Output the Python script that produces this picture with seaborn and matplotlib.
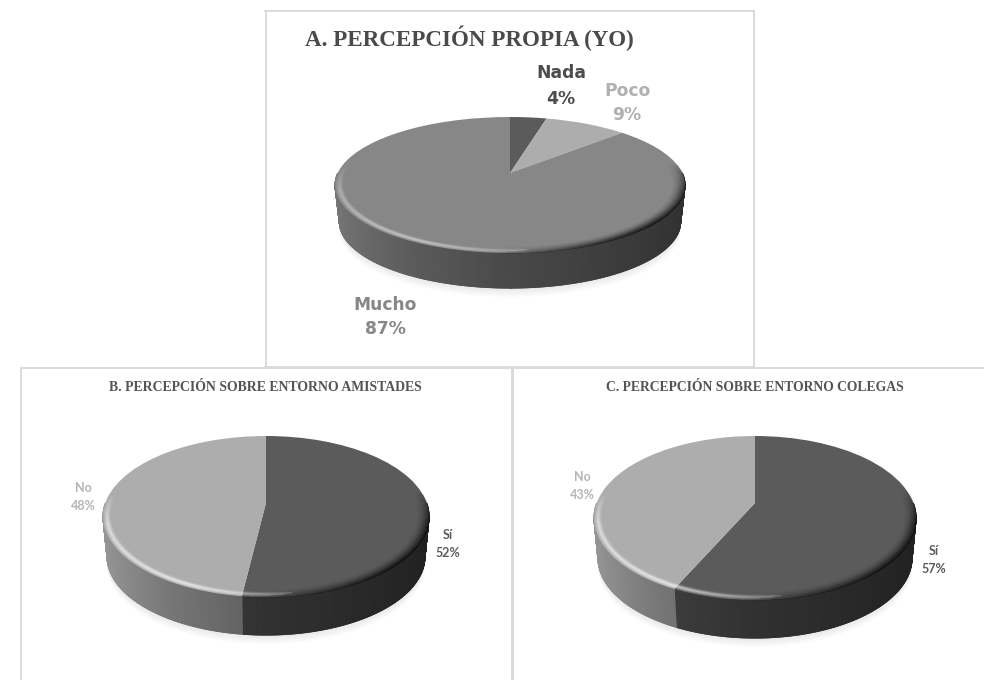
import numpy as np
import matplotlib
matplotlib.use("Agg")
import matplotlib.pyplot as plt
from matplotlib.collections import LineCollection
from matplotlib.transforms import Transform
import seaborn as sns

sns.set_theme(style="white")

# Survey shares, one small set per panel
titles = ["A. PERCEPCIÓN PROPIA (YO)",
          "B. PERCEPCIÓN SOBRE ENTORNO AMISTADES",
          "C. PERCEPCIÓN SOBRE ENTORNO COLEGAS"]
cats_a = ["Nada", "Poco", "Mucho"]
vals_a = [4, 9, 87]
cats_b = ["Sí", "No"]
vals_b = [52, 48]
cats_c = ["Sí", "No"]
vals_c = [57, 43]

grey_dark = "#5b5b5b"
grey_mid = "#878787"
grey_light = "#adadad"
frame_grey = "#d9d9d9"

# Panel layout in figure pixels
panels = [
    dict(cats=cats_a, vals=vals_a, title=titles[0],
         colors=[grey_dark, grey_light, grey_mid],
         rect=(265.5, 11, 754, 367), apex=(510, 173), rx=175, up=56, down=80, depth=35,
         title_xy=(469, 38), title_size=16.6, title_color="#4a4a4a",
         label_size=12.3, label_family="DejaVu Sans",
         label_xy=[(561, 86), (627, 103), (385, 317)],
         label_colors=["#4d4d4d", "#b0b0b0", "#878787"], line_gap=1.5, glow=0.3),
    dict(cats=cats_b, vals=vals_b, title=titles[1],
         colors=[grey_dark, grey_light],
         rect=(20.5, 368.5, 512, 700), apex=(266, 503), rx=163, up=67, down=94, depth=38,
         title_xy=(265.5, 388), title_size=9.9, title_color="#555555",
         label_size=9, label_family="Lato",
         label_xy=[(448, 544), (83, 497)],
         label_colors=["#5b5b5b", "#b5b5b5"], line_gap=1.6, glow=0.5),
    dict(cats=cats_c, vals=vals_c, title=titles[2],
         colors=[grey_dark, grey_light],
         rect=(513, 368.5, 1000, 700), apex=(755, 503), rx=161, up=67, down=97, depth=38,
         title_xy=(755, 388), title_size=9.8, title_color="#555555",
         label_size=9, label_family="Lato",
         label_xy=[(934, 560), (582, 486)],
         label_colors=["#5b5b5b", "#b5b5b5"], line_gap=1.6, glow=0.5),
]

FIG_W, FIG_H = 984, 680


class Tilt(Transform):
    """Projects the unit pie onto the page with a slight perspective."""
    input_dims = 2
    output_dims = 2
    is_separable = False
    has_inverse = False

    def __init__(self, apex, rx, up, down):
        super().__init__()
        self.apex = apex
        self.k = (down - up) / (down + up)
        self.s = up * (1 + self.k)
        self.c = rx * np.sqrt(1 - self.k ** 2)

    def transform_non_affine(self, values):
        values = np.asarray(values, dtype=float)
        w = 1 + self.k * values[:, 1]
        px = self.apex[0] + self.c * values[:, 0] / w
        py = self.apex[1] - self.s * values[:, 1] / w
        return np.column_stack([px, py])


def side_shade(u):
    return np.interp(u, [-1, -0.5, 0, 1], [0.88, 0.68, 0.54, 0.36])


def draw_panel(ax, p):
    left, top, right, bottom = p["rect"]
    tilt = Tilt(p["apex"], p["rx"], p["up"], p["down"])
    shrink = 0.975
    drop = p["depth"] + p["down"] * (1 - shrink)
    cx, cy = p["apex"]

    def ring(theta, r=1.0):
        return tilt.transform_non_affine(np.column_stack([r * np.cos(theta), r * np.sin(theta)]))

    def lower(pts):
        return cx + (pts[:, 0] - cx) * shrink, cy + (pts[:, 1] - cy) * shrink + drop

    # Soft cast shadow under the disc
    all_theta = np.linspace(0, 2 * np.pi, 240)
    for grow in np.linspace(1, 9, 6):
        lx, ly = lower(ring(all_theta))
        ax.fill(lx, ly + grow, color="black", alpha=0.016, lw=0, zorder=1)

    # Front wall, walking each slice clockwise from twelve o'clock
    edges = 90 - 3.6 * np.concatenate([[0], np.cumsum(p["vals"])])
    for i, col in enumerate(p["colors"]):
        hi, lo = edges[i], edges[i + 1]
        wall_cmap = sns.blend_palette(["#000000", col], as_cmap=True)
        for lo_w, hi_w in [(-180, 0), (-540, -360)]:
            a, b = max(lo, lo_w), min(hi, hi_w)
            if a >= b:
                continue
            th = np.radians(np.linspace(a, b, max(3, int((b - a) * 1.5))))
            pts = ring(th)
            lx, ly = lower(pts)
            X = np.vstack([pts[:, 0], lx])
            Y = np.vstack([pts[:, 1], ly])
            C = np.vstack([side_shade(np.cos(th))] * 2)
            ax.pcolormesh(X, Y, C, shading="gouraud", cmap=wall_cmap, vmin=0, vmax=1,
                          zorder=2, rasterized=False)
            # Smooth the lower silhouette of the wall
            seg = np.stack([np.column_stack([lx[:-1], ly[:-1]]),
                            np.column_stack([lx[1:], ly[1:]])], axis=1)
            ax.add_collection(LineCollection(seg, colors=wall_cmap(side_shade(np.cos(th[:-1]))),
                                             linewidths=0.8, zorder=2))

    # Top face
    wedges, _ = ax.pie(p["vals"], colors=p["colors"], startangle=90, counterclock=False,
                       radius=1, wedgeprops=dict(linewidth=0))
    for w in wedges:
        w.set_transform(tilt + ax.transData)
        w.set_zorder(3)

    # Bevel: light along the front-left rim, dark along the front-right rim
    segs, rgba = [], []
    th = np.radians(np.linspace(175, 385, 260))
    r0 = 0.925
    for r in np.linspace(r0, 1.0, 13):
        t = (r - r0) / (1 - r0)
        pts = ring(th, r)
        for j in range(len(th) - 1):
            u = np.cos(th[j])
            front = np.clip(-np.sin(th[j]) * 2.5 + 0.35, 0, 1)
            dark = np.clip(u * 0.8 + 0.1, 0, 0.7) * t ** 2 * front
            light = (np.clip((0.25 - u) / 0.7, 0, 1) * p["glow"]
                     * np.exp(-((r - 0.975) / 0.014) ** 2) * front)
            segs.append(pts[j:j + 2])
            if dark > light:
                rgba.append((0, 0, 0, dark))
            else:
                rgba.append((1, 1, 1, light))
    ax.add_collection(LineCollection(segs, colors=rgba, linewidths=1.0, zorder=4))

    # Category and share labels
    for cat, val, xy, col in zip(p["cats"], p["vals"], p["label_xy"], p["label_colors"]):
        ax.text(*xy, f"{cat}\n{val}%", ha="center", va="center", color=col, weight="bold",
                family=p["label_family"], fontsize=p["label_size"], linespacing=p["line_gap"],
                zorder=6, clip_on=False)

    ax.text(*p["title_xy"], p["title"], ha="center", va="center", color=p["title_color"],
            weight="bold", family="Liberation Serif", fontsize=p["title_size"], zorder=6)

    ax.set_aspect("auto")
    ax.set_xlim(left, right)
    ax.set_ylim(bottom, top)
    ax.set_frame_on(True)
    ax.set_xticks([])
    ax.set_yticks([])
    for spine in ax.spines.values():
        spine.set_color(frame_grey)
        spine.set_linewidth(1.3)


fig = plt.figure(figsize=(FIG_W / 100, FIG_H / 100), dpi=100, facecolor="white")
for p in panels:
    l, t, r, b = p["rect"]
    ax = fig.add_axes([l / FIG_W, 1 - b / FIG_H, (r - l) / FIG_W, (b - t) / FIG_H])
    draw_panel(ax, p)

fig.savefig("out.png", dpi=100, facecolor="white")
